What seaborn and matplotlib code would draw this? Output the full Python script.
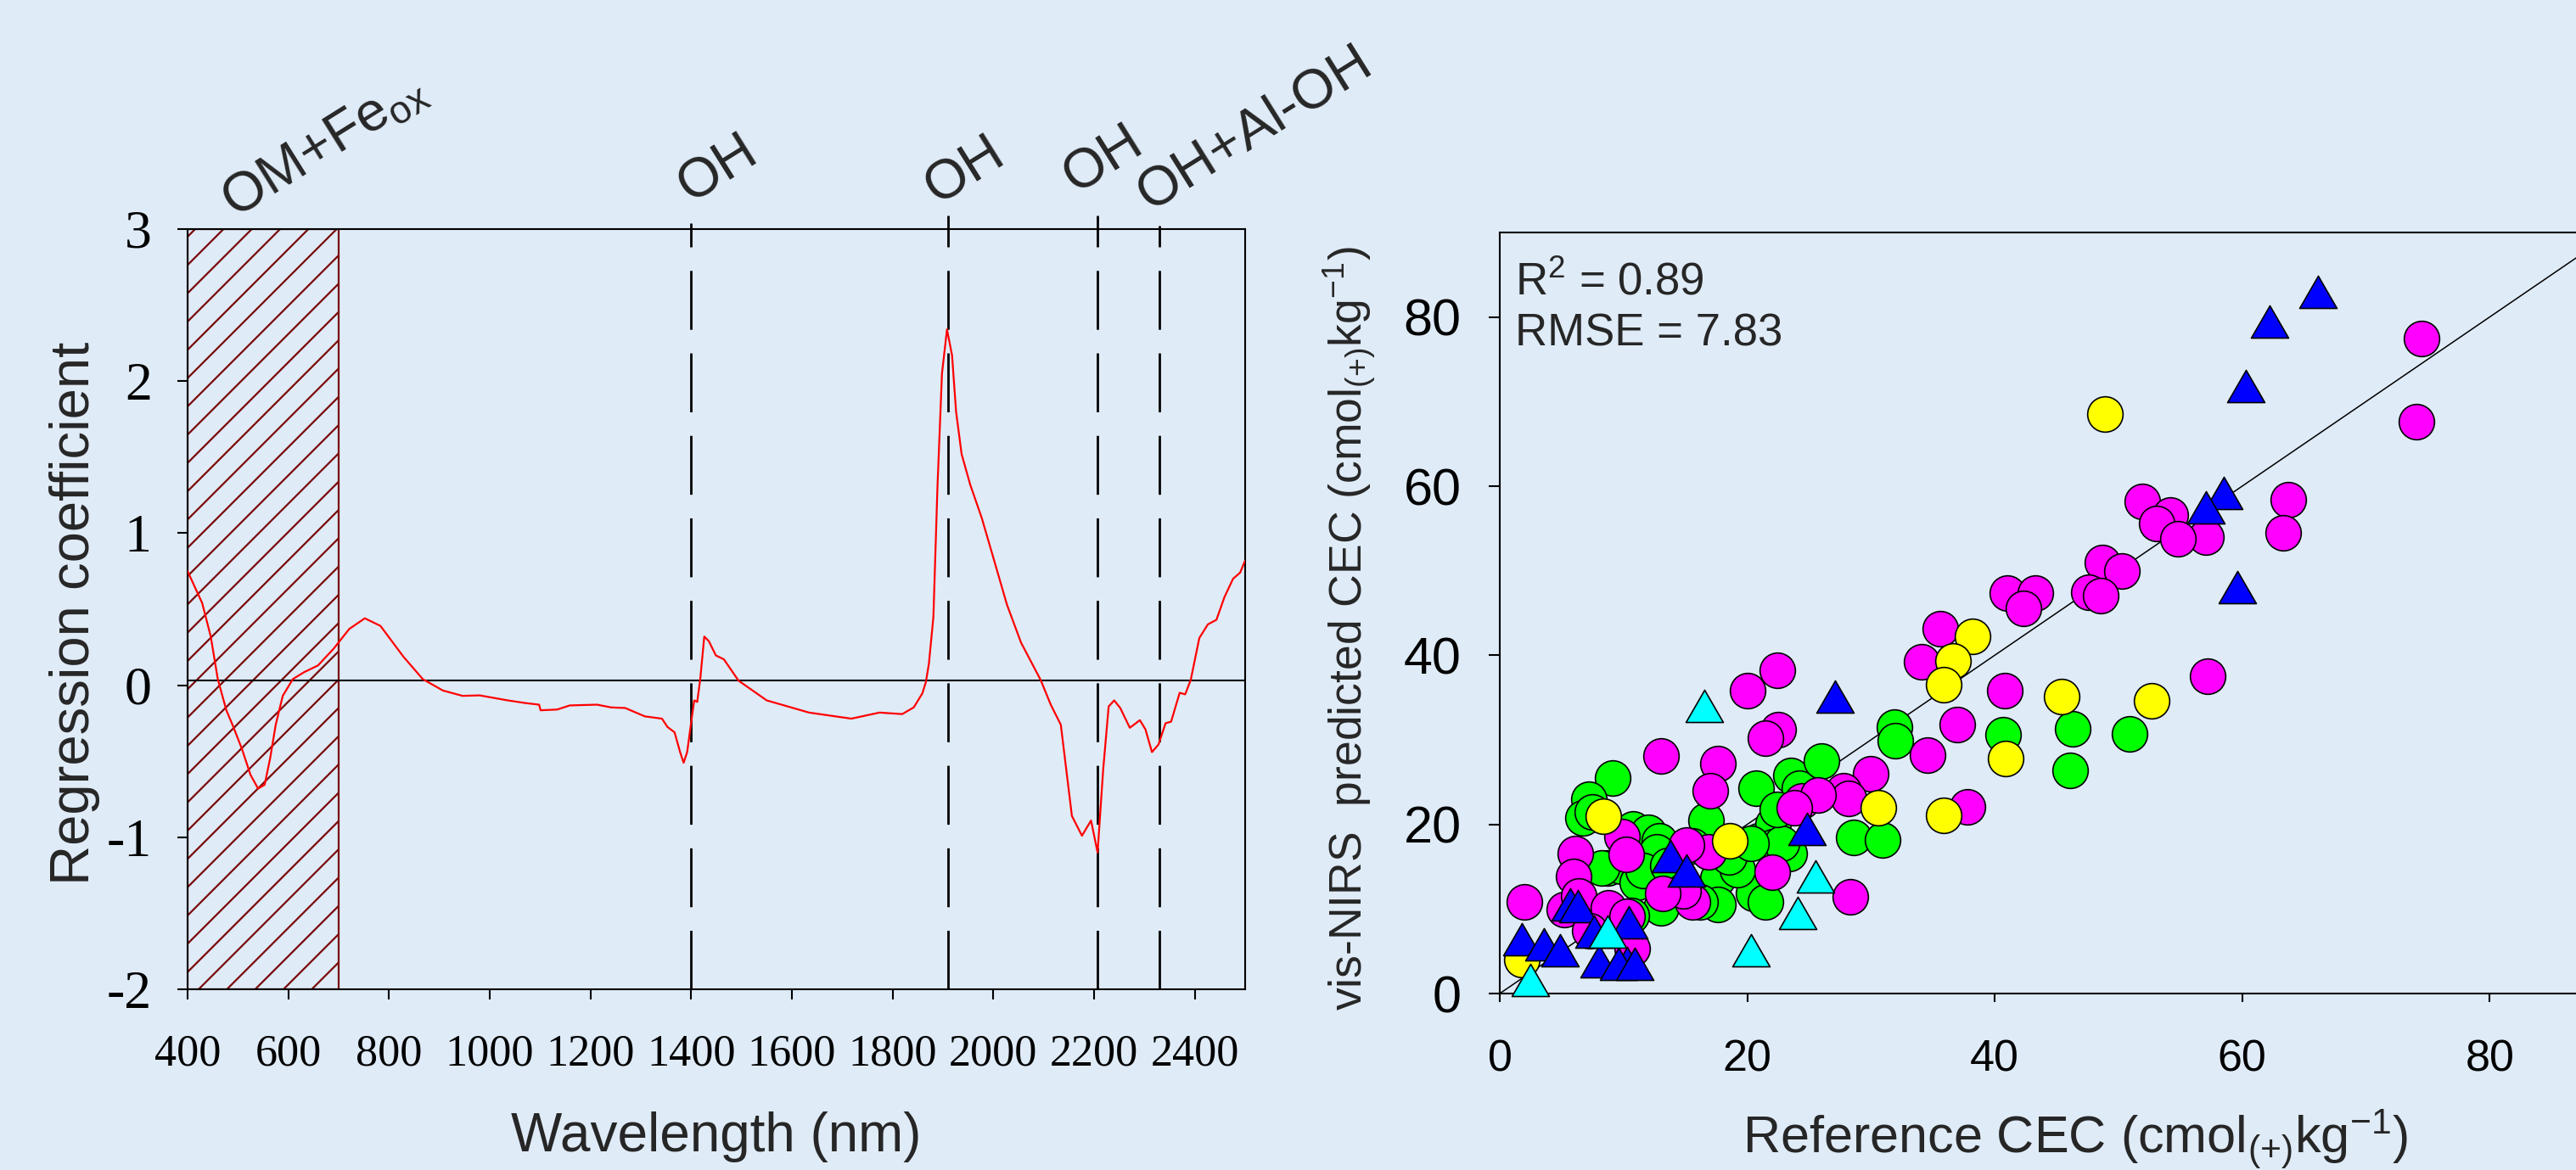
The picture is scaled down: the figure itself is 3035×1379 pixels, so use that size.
import numpy as np
import pandas as pd
import matplotlib
matplotlib.use("Agg")
import matplotlib.pyplot as plt
import seaborn as sns
from matplotlib.path import Path
from matplotlib import font_manager

# ---------------- data: regression coefficients ----------------
wavelength = [400, 429, 446, 460, 477, 491, 508, 525, 540, 553, 564, 575, 589, 609,
              631, 659, 690, 721, 752, 783, 828, 867, 907, 946, 980, 1036, 1072,
              1098, 1101, 1134, 1159, 1213, 1241, 1269, 1308, 1342, 1353, 1367,
              1378, 1385, 1392, 1401, 1406, 1412, 1418, 1426, 1435, 1449, 1465,
              1494, 1550, 1634, 1718, 1774, 1819, 1842, 1859, 1866, 1872, 1881,
              1889, 1898, 1908, 1918, 1926, 1937, 1954, 1977, 1999, 2027, 2055,
              2094, 2114, 2134, 2145, 2156, 2176, 2194, 2207, 2218, 2229, 2240,
              2252, 2271, 2291, 2302, 2315, 2328, 2342, 2353, 2370, 2381, 2392,
              2409, 2426, 2443, 2459, 2476, 2490, 2500]
coefficient = [0.75, 0.54, 0.32, 0.04, -0.165, -0.275, -0.42, -0.59, -0.68, -0.655,
               -0.48, -0.26, -0.07, 0.04, 0.085, 0.13, 0.24, 0.37, 0.44, 0.39, 0.19,
               0.04, -0.035, -0.07, -0.067, -0.10, -0.118, -0.128, -0.165, -0.16,
               -0.133, -0.128, -0.146, -0.15, -0.205, -0.22, -0.275, -0.31, -0.44,
               -0.51, -0.44, -0.22, -0.10, -0.11, 0.04, 0.32, 0.29, 0.196, 0.17,
               0.03, -0.10, -0.18, -0.22, -0.18, -0.19, -0.146, -0.054, 0.02, 0.14,
               0.45, 1.30, 2.05, 2.34, 2.17, 1.80, 1.52, 1.32, 1.10, 0.85, 0.53,
               0.28, 0.034, -0.128, -0.26, -0.56, -0.86, -0.99, -0.89, -1.10, -0.56,
               -0.14, -0.10, -0.15, -0.28, -0.23, -0.29, -0.44, -0.39, -0.25, -0.24,
               -0.05, -0.06, 0.035, 0.31, 0.40, 0.43, 0.58, 0.70, 0.74, 0.82]

band_lines = [1400, 1910, 2206, 2330]
band_line_tops = [3.04, 3.09, 3.09, 3.02]
band_labels = [r"OM+Fe$_{\mathrm{ox}}$", "OH", "OH", "OH", "OH+Al-OH"]
band_label_x = [493, 1399, 1889, 2164, 2311]
band_label_y = [3.07, 3.17, 3.16, 3.23, 3.12]
shade_start, shade_end = 400, 700

# ---------------- data: predicted vs reference CEC ----------------
green_x = [9.1, 7.2, 6.7, 10.8, 12.0, 12.9, 12.7, 8.7, 9.8, 11.1, 11.6, 13.0, 10.6,
           16.7, 17.6, 17.6, 16.2, 20.7, 20.9, 20.5, 21.5, 19.2, 18.5, 22.1, 22.1,
           23.5, 24.2, 26.0, 23.4, 22.8, 22.4, 20.3, 31.9, 32.0, 28.6, 30.95, 40.7,
           46.3, 46.1, 50.9, 14.6, 15.6, 13.6, 8.2, 7.5]
green_y = [25.5, 23.0, 20.8, 19.5, 19.1, 18.1, 16.8, 14.8, 15.1, 13.1, 14.5, 10.1, 9.2,
           20.5, 13.6, 10.5, 10.8, 24.3, 18.1, 11.8, 10.8, 14.6, 16.2, 20.1, 17.4,
           25.8, 24.3, 27.5, 16.6, 17.8, 21.8, 17.8, 31.5, 29.9, 18.5, 18.2, 30.6,
           31.3, 26.4, 30.7, 12.2, 17.5, 15.2, 14.8, 21.5]

magenta_x = [74.5, 74.1, 51.9, 54.2, 53.1, 57.1, 54.8, 63.7, 63.3, 57.2, 48.7, 50.3,
             47.6, 48.6, 41.0, 43.3, 42.3, 35.6, 34.1, 40.8, 37.0, 34.6, 37.8, 30.0,
             27.8, 28.2, 28.3, 22.4, 20.0, 22.5, 21.5, 17.6, 17.0, 13.0, 24.4, 25.7,
             23.8, 22.0, 16.9, 15.1, 15.6, 14.8, 13.2, 9.9, 10.2, 6.1, 6.0, 2.0, 5.2,
             6.4, 8.8, 7.3, 10.7, 10.3]
magenta_y = [77.5, 67.6, 58.2, 56.6, 55.6, 54.0, 53.8, 58.4, 54.5, 37.5, 51.0, 50.0,
             47.5, 47.1, 47.4, 47.4, 45.6, 43.1, 39.2, 35.8, 31.8, 28.2, 22.1, 26.0,
             24.0, 23.1, 11.4, 38.2, 35.8, 31.2, 30.2, 27.2, 24.0, 28.1, 22.8, 23.5,
             22.0, 14.3, 16.8, 17.6, 10.8, 12.1, 11.8, 18.6, 16.5, 16.6, 13.8, 10.8,
             9.95, 11.5, 10.1, 7.4, 5.3, 9.1]

yellow_x = [48.9, 38.2, 36.6, 35.9, 45.4, 52.7, 40.9, 30.6, 35.9, 18.6, 8.4, 1.8]
yellow_y = [68.5, 42.2, 39.3, 36.5, 35.1, 34.6, 27.8, 22.0, 21.1, 18.1, 21.0, 4.0]

blue_x = [66.1, 62.2, 60.3, 58.5, 57.1, 59.6, 27.1, 24.8, 13.8, 15.1, 5.7, 6.3, 1.8,
          3.6, 4.9, 10.4, 7.6, 8.0, 10.3, 9.6, 10.9]
blue_y = [83.0, 79.5, 71.8, 59.2, 57.5, 48.1, 35.1, 19.5, 16.3, 14.5, 10.5, 10.3, 6.4,
          5.8, 5.1, 8.4, 7.3, 3.8, 3.6, 3.5, 3.5]

cyan_x = [16.5, 25.5, 24.1, 20.3, 8.7, 2.5]
cyan_y = [34.0, 13.8, 9.5, 5.1, 7.3, 1.6]

one_to_one = [0, 90]
stats_text = [r"R$^{\mathrm{2}}$ = 0.89", "RMSE = 7.83"]

# ---------------- style ----------------
BG = "#DFEBF7"
sns.set_style("ticks")
plt.rcParams["font.family"] = ["Liberation Sans", "DejaVu Sans"]
plt.rcParams["mathtext.fontset"] = "custom"
plt.rcParams["mathtext.rm"] = "Liberation Sans"
plt.rcParams["mathtext.it"] = "Liberation Sans:italic"
plt.rcParams["mathtext.bf"] = "Liberation Sans:bold"
plt.rcParams["axes.unicode_minus"] = False
plt.rcParams["hatch.linewidth"] = 1.6
plt.rcParams["hatch.color"] = "#7a0a0a"

installed = {f.name for f in font_manager.fontManager.ttflist}
HAS_NARROW = "Liberation Sans Narrow" in installed
if HAS_NARROW:
    ylab2_family = ["Liberation Sans Narrow", "Liberation Sans", "DejaVu Sans"]
    ylab2_size = 45
else:
    ylab2_family = ["Liberation Sans", "DejaVu Sans"]
    ylab2_size = 38.5

fig = plt.figure(figsize=(30.35, 13.79), dpi=100, facecolor=BG)

# ================= left panel =================
ax1 = fig.add_axes([0.07282, 0.15446, 0.41054, 0.64975])
ax1.set_facecolor(BG)
ax1.axvspan(shade_start, shade_end, facecolor="none", edgecolor="#7a0a0a",
            hatch="/", lw=1.6, zorder=1)
ax1.axhline(0.03, color="black", lw=1.5, zorder=2)
for xb, top in zip(band_lines, band_line_tops):
    ax1.plot([xb, xb], [-2, top], color="black", lw=2, ls=(0, (25, 10)),
             clip_on=False, zorder=2)
sns.lineplot(x=wavelength, y=coefficient, ax=ax1, color="red", lw=1.6,
             sort=False, estimator=None, zorder=3)
for lab, lx, ly in zip(band_labels, band_label_x, band_label_y):
    ax1.text(lx, ly, lab, rotation=32, rotation_mode="anchor", ha="left",
             va="baseline", fontsize=47, clip_on=False)

ax1.set_xlim(400, 2500)
ax1.set_ylim(-2, 3)
ax1.set_xticks(list(range(400, 2401, 200)))
ax1.set_yticks([-2, -1, 0, 1, 2, 3])
ax1.tick_params(axis="x", direction="out", length=8.5, width=1.5, labelsize=37.5,
                pad=29, labelfontfamily="Liberation Serif", colors="black")
ax1.tick_params(axis="y", direction="out", length=8.5, width=1.5, labelsize=46,
                pad=22, labelfontfamily="Liberation Serif", colors="black")
for sp in ax1.spines.values():
    sp.set_visible(True)
    sp.set_linewidth(1.5)
    sp.set_color("black")
ax1.set_xlabel("Wavelength (nm)", fontsize=46, va="center")
ax1.xaxis.set_label_coords(0.5, -0.194)
ax1.set_ylabel("Regression coefficient", fontsize=47, va="center")
ax1.yaxis.set_label_coords(-0.1065, 0.494)

# ================= right panel =================
ax2 = fig.add_axes([0.58221, 0.15083, 0.43229, 0.65047])
ax2.set_facecolor(BG)
ax2.plot(one_to_one, one_to_one, color="black", lw=1.1, zorder=1)

tri = Path([(0, 0.866), (-1, -0.866), (1, -0.866), (0, 0.866)],
           [Path.MOVETO, Path.LINETO, Path.LINETO, Path.CLOSEPOLY])

groups = [
    (green_x, green_y, "#00FF00", "o", 900),
    (magenta_x, magenta_y, "#FF00FF", "o", 900),
    (yellow_x, yellow_y, "#FFFF00", "o", 900),
    (blue_x, blue_y, "#0000FF", tri, 1000),
    (cyan_x, cyan_y, "#00FFFF", tri, 1000),
]
for gx, gy, col, mk, sz in groups:
    sns.scatterplot(x=gx, y=gy, ax=ax2, color=col, marker=mk, s=sz,
                    edgecolor="black", linewidth=1.2, zorder=3, clip_on=False)

ax2.text(1.2, 82.6, stats_text[0], fontsize=38, va="baseline", ha="left")
ax2.text(1.2, 76.6, stats_text[1], fontsize=38, va="baseline", ha="left")

ax2.set_xlim(0, 90)
ax2.set_ylim(0, 90)
ax2.set_xticks([0, 20, 40, 60, 80])
ax2.set_yticks([0, 20, 40, 60, 80])
ax2.tick_params(axis="x", direction="out", length=7.5, width=1.5, labelsize=37.5,
                pad=31, colors="black")
ax2.tick_params(axis="y", direction="out", length=9.5, width=1.5, labelsize=44,
                pad=23, colors="black")
for name, sp in ax2.spines.items():
    sp.set_linewidth(1.5)
    sp.set_color("black")
    sp.set_visible(name != "right")
ax2.set_xlabel(r"Reference CEC (cmol$_{\mathrm{(+)}}$kg$^{\mathrm{-1}}$)",
               fontsize=44, va="center")
ax2.xaxis.set_label_coords(0.517, -0.192)
ax2.set_ylabel(r"vis-NIRS  predicted CEC (cmol$_{\mathrm{(+)}}$kg$^{\mathrm{-1}}$)",
               fontsize=ylab2_size, family=ylab2_family, va="center")
ax2.yaxis.set_label_coords(-0.134, 0.48)

fig.savefig("out.png", dpi=100, facecolor=BG)
